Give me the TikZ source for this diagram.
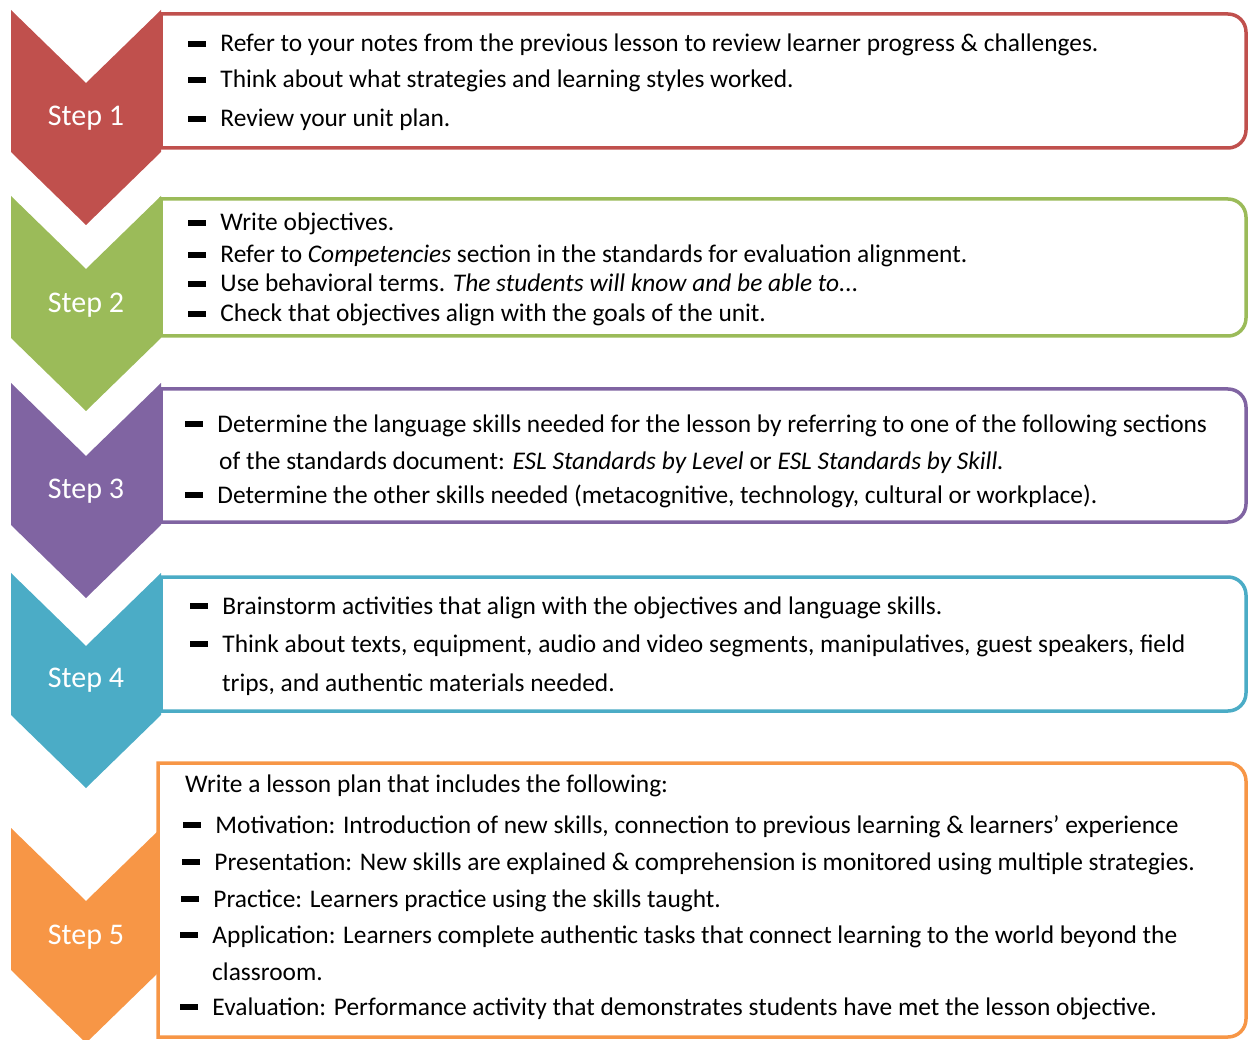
\documentclass[tikz,border=0pt]{standalone}
\usepackage{fontspec}
\setmainfont{Carlito}
\usepackage{tikz}
\definecolor{stepred}{HTML}{C0504D}
\definecolor{stepgreen}{HTML}{9BBB59}
\definecolor{steppurple}{HTML}{8064A2}
\definecolor{stepblue}{HTML}{4BACC6}
\definecolor{steporange}{HTML}{F79646}
\tikzstyle{txt} = [anchor=base west, inner sep=0pt, font=\fontsize{25.4}{30}\selectfont]
\tikzstyle{stepno} = [text=white, inner sep=0pt, font=\fontsize{30}{34}\selectfont]
\tikzstyle{frame} = [line width=3.5pt, fill=white]
\newcommand{\bul}{\rule[0.2em]{0.72em}{0.25em}\hspace{0.55em}}

\begin{document}
\begin{tikzpicture}[x=1pt, y=-1pt]
				\useasboundingbox (0,0) rectangle (1248,1040);
				\foreach \t/\c in {10/stepred, 196/stepgreen, 383/steppurple, 573/stepblue, 828/steporange}
					\fill[\c] (11,\t) -- (86,\t+73) -- (161,\t) -- (161,\t+142) -- (86,\t+215) -- (11,\t+142) -- cycle;
				\foreach \a/\b/\l/\c in {14/148/161/stepred, 199/336/161/stepgreen, 389/522/161/steppurple, 577/711/161/stepblue, 763/1037/158/steporange}
					\draw[frame, draw=\c] (\l,\a) [rounded corners=18pt] -- (1246,\a) -- (1246,\b) [sharp corners] -- (\l,\b) -- cycle;
				
				\node (step1)[stepno] at (86,118) {Step 1};
				\node (step2)[stepno] at (86,305) {Step 2};
				\node (step3)[stepno] at (86,491) {Step 3};
				\node (step4)[stepno] at (86,680) {Step 4};
				\node (step5)[stepno] at (86,937) {Step 5};
				
				\node (s1a)[txt] at (188,52) {\bul Refer to your notes from the previous lesson to review learner progress \& challenges.};
				\node (s1b)[txt] at (188,88) {\bul Think about what strategies and learning styles worked.};
				\node (s1c)[txt] at (188,127) {\bul Review your unit plan.};
				
				\node (s2a)[txt] at (188,231) {\bul Write objectives.};
				\node (s2b)[txt] at (188,263) {\bul Refer to \textit{Competencies} section in the standards for evaluation alignment.};
				\node (s2c)[txt] at (188,292) {\bul Use behavioral terms. \textit{The students will know and be able to...}};
				\node (s2d)[txt] at (188,322) {\bul Check that objectives align with the goals of the unit.};
				
				\node (s3a)[txt] at (185,432) {\bul Determine the language skills needed for the lesson by referring to one of the following sections};
				\node (s3b)[txt] at (219,469) {of the standards document: \textit{ESL Standards by Level} or \textit{ESL Standards by Skill.}};
				\node (s3c)[txt] at (185,503) {\bul Determine the other skills needed (metacognitive, technology, cultural or workplace).};
				
				\node (s4a)[txt] at (190,614) {\bul Brainstorm activities that align with the objectives and language skills.};
				\node (s4b)[txt] at (190,652) {\bul Think about texts, equipment, audio and video segments, manipulatives, guest speakers, field};
				\node (s4c)[txt] at (222,691) {trips, and authentic materials needed.};
				
				\node (s5)[txt] at (185,792) {Write a lesson plan that includes the following:};
				\node (s5a)[txt] at (183,833) {\bul Motivation: Introduction of new skills, connection to previous learning \& learners’ experience};
				\node (s5b)[txt] at (182,870) {\bul Presentation: New skills are explained \& comprehension is monitored using multiple strategies.};
				\node (s5c)[txt] at (181,907) {\bul Practice: Learners practice using the skills taught.};
				\node (s5d)[txt] at (180,943) {\bul Application: Learners complete authentic tasks that connect learning to the world beyond the};
				\node (s5e)[txt] at (212,980) {classroom.};
				\node (s5f)[txt] at (180,1015) {\bul Evaluation: Performance activity that demonstrates students have met the lesson objective.};
			\end{tikzpicture}
\end{document}
